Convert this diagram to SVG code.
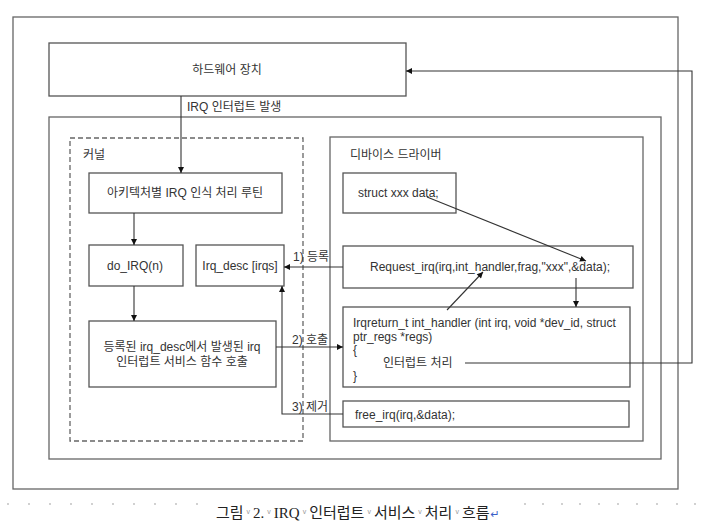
<svg xmlns="http://www.w3.org/2000/svg" width="705" height="528" viewBox="0 0 705 528">
  <style>
    .frame { fill: none; stroke: #666; stroke-width: 1.3; }
    .box { fill: #fff; stroke: #555; stroke-width: 1.3; }
    .dash { fill: none; stroke: #666; stroke-width: 1.3; stroke-dasharray: 5 3; }
    .wire { fill: none; stroke: #333; stroke-width: 1.1; }
    .lbl { font-family: "Liberation Sans", "Noto Sans CJK KR", sans-serif; font-size: 12px; fill: #333; }
    .mid { text-anchor: middle; }
    .cap { font-family: "Liberation Serif", "Noto Sans CJK KR", serif; font-size: 15px; fill: #222; }
    .mark { font-family: "Liberation Sans", sans-serif; font-size: 7px; fill: #999; }
    .dot { fill: #bbb; }
  </style>
  <defs>
    <marker id="arrow" viewBox="0 0 10 10" refX="10" refY="5" markerWidth="8" markerHeight="6" markerUnits="userSpaceOnUse" orient="auto">
      <path d="M0,0 L10,5 L0,10 z" fill="#111"/>
    </marker>
  </defs>

  <rect width="705" height="528" fill="#fff"/>

  <!-- outer frame and containers -->
  <rect class="frame" x="13" y="17" width="665" height="472"/>
  <rect class="frame" x="49" y="117" width="612" height="342"/>

  <g id="kernel">
    <rect class="dash" x="70" y="138" width="233" height="303"/>
    <text class="lbl" x="83" y="159">커널</text>
  </g>

  <g id="device-driver">
    <rect class="frame" x="330" y="137" width="313" height="304"/>
    <text class="lbl" x="350" y="159">디바이스 드라이버</text>
  </g>

  <!-- nodes -->
  <g id="hardware">
    <rect class="box" x="49" y="43" width="357" height="53"/>
    <text class="lbl mid" x="227" y="74">하드웨어 장치</text>
  </g>

  <g id="arch-irq">
    <rect class="box" x="89" y="173" width="193" height="40"/>
    <text class="lbl mid" x="185" y="197">아키텍처별 IRQ 인식 처리 루틴</text>
  </g>

  <g id="do-irq">
    <rect class="box" x="89" y="245" width="94" height="41"/>
    <text class="lbl mid" x="135" y="270">do_IRQ(n)</text>
  </g>

  <g id="irq-desc">
    <rect class="box" x="196" y="245" width="88" height="41"/>
    <text class="lbl mid" x="240" y="270">Irq_desc [irqs]</text>
  </g>

  <g id="service-call">
    <rect class="box" x="89" y="321" width="187" height="66"/>
    <text class="lbl mid" x="182" y="351">등록된 irq_desc에서 발생된 irq</text>
    <text class="lbl mid" x="182" y="366">인터럽트 서비스 함수 호출</text>
  </g>

  <g id="struct-data">
    <rect class="box" x="343" y="173" width="113" height="40"/>
    <text class="lbl" x="358" y="197">struct xxx data;</text>
  </g>

  <g id="request-irq">
    <rect class="box" x="343" y="246" width="290" height="42"/>
    <text class="lbl mid" x="490" y="271">Request_irq(irq,int_handler,frag,"xxx",&amp;data);</text>
  </g>

  <g id="int-handler">
    <rect class="box" x="343" y="307" width="287" height="80"/>
    <text class="lbl" x="353" y="327">Irqreturn_t int_handler (int irq, void *dev_id, struct</text>
    <text class="lbl" x="353" y="341">ptr_regs *regs)</text>
    <text class="lbl" x="353" y="354">{</text>
    <text class="lbl" x="383" y="367">인터럽트 처리</text>
    <text class="lbl" x="353" y="380">}</text>
  </g>

  <g id="free-irq">
    <rect class="box" x="343" y="401" width="286" height="26"/>
    <text class="lbl" x="355" y="419">free_irq(irq,&amp;data);</text>
  </g>

  <!-- connectors -->
  <g id="connectors">
    <line class="wire" x1="181" y1="96" x2="181" y2="173" marker-end="url(#arrow)"/>
    <text class="lbl" x="187" y="111">IRQ 인터럽트 발생</text>

    <line class="wire" x1="134" y1="213" x2="134" y2="245" marker-end="url(#arrow)"/>
    <line class="wire" x1="134" y1="286" x2="134" y2="321" marker-end="url(#arrow)"/>

    <line class="wire" x1="343" y1="267" x2="284" y2="267" marker-end="url(#arrow)"/>
    <text class="lbl" x="293" y="261">1) 등록</text>

    <line class="wire" x1="276" y1="347" x2="343" y2="347" marker-end="url(#arrow)"/>
    <text class="lbl" x="292" y="344">2) 호출</text>

    <polyline class="wire" points="343,414 282,414 282,286" marker-end="url(#arrow)"/>
    <text class="lbl" x="292" y="411">3) 제거</text>

    <line class="wire" x1="427" y1="197" x2="586" y2="261" marker-end="url(#arrow)"/>
    <line class="wire" x1="447" y1="310" x2="483" y2="272" marker-end="url(#arrow)"/>
    <line class="wire" x1="576" y1="278" x2="576" y2="307" marker-end="url(#arrow)"/>

    <polyline class="wire" points="465,363 692,363 692,71 406,71" marker-end="url(#arrow)"/>
  </g>

  <!-- caption line with editor formatting marks -->
  <g id="caption">
    <g class="dot">
      <circle cx="8" cy="504" r="0.9"/><circle cx="29" cy="504" r="0.9"/><circle cx="50" cy="504" r="0.9"/>
      <circle cx="71" cy="504" r="0.9"/><circle cx="92" cy="504" r="0.9"/><circle cx="113" cy="504" r="0.9"/>
      <circle cx="134" cy="504" r="0.9"/><circle cx="155" cy="504" r="0.9"/><circle cx="176" cy="504" r="0.9"/>
      <circle cx="197" cy="504" r="0.9"/>
      <circle cx="525" cy="504" r="0.9"/><circle cx="543" cy="504" r="0.9"/><circle cx="562" cy="504" r="0.9"/>
      <circle cx="580" cy="504" r="0.9"/><circle cx="599" cy="504" r="0.9"/><circle cx="618" cy="504" r="0.9"/>
      <circle cx="637" cy="504" r="0.9"/><circle cx="657" cy="504" r="0.9"/><circle cx="677" cy="504" r="0.9"/>
      <circle cx="695" cy="504" r="0.9"/>
    </g>
    <text class="cap" x="216" y="518">그림<tspan class="mark" dx="3" dy="-4">v</tspan><tspan dx="3" dy="4">2.</tspan><tspan class="mark" dx="3" dy="-4">v</tspan><tspan dx="3" dy="4">IRQ</tspan><tspan class="mark" dx="3" dy="-4">v</tspan><tspan dx="3" dy="4">인터럽트</tspan><tspan class="mark" dx="3" dy="-4">v</tspan><tspan dx="3" dy="4">서비스</tspan><tspan class="mark" dx="3" dy="-4">v</tspan><tspan dx="3" dy="4">처리</tspan><tspan class="mark" dx="3" dy="-4">v</tspan><tspan dx="3" dy="4">흐름</tspan><tspan dx="1" font-family="DejaVu Sans, sans-serif" font-size="11" fill="#3a5fc8">↵</tspan></text>
  </g>
</svg>
